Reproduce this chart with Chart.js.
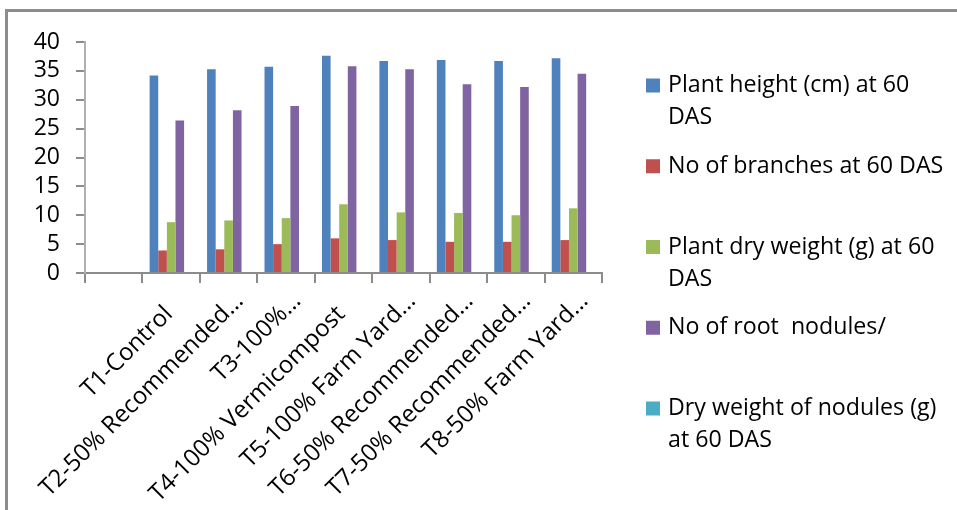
<!DOCTYPE html>
<html>
<head>
<meta charset="utf-8">
<title>Growth parameters at 60 DAS</title>
<script src="https://cdn.jsdelivr.net/npm/chart.js@4"></script>
<style>
  html, body { margin: 0; padding: 0; background: #fff; overflow: hidden; }
  .frame {
    position: absolute; left: 5px; top: 9px;
    width: 1100px; height: 700px;
    border: 3px solid #8c8c8c;
  }
  #myChart { position: absolute; left: 0; top: 0; }
</style>
</head>
<body>
<div class="frame"></div>
<canvas id="myChart" width="957" height="510"></canvas>
<script>
"use strict";

/* Behandlingar (första kategorin är tom) */
const categories = [
  "",
  "T1-Control",
  "T2-50% Recommended…",
  "T3-100%…",
  "T4-100% Vermicompost",
  "T5-100% Farm Yard…",
  "T6-50% Recommended…",
  "T7-50% Recommended…",
  "T8-50% Farm Yard…"
];

const seriesNames = [
  "Plant height (cm) at 60 DAS",
  "No of branches at 60 DAS",
  "Plant dry weight (g) at 60 DAS",
  "No of root  nodules/",
  "Dry weight of nodules (g) at 60 DAS"
];

const plantHeight  = [null, 34.2, 35.3, 35.7, 37.6, 36.7, 36.9, 36.7, 37.2];
const branches     = [null, 3.9, 4.1, 5.0, 6.0, 5.7, 5.4, 5.4, 5.7];
const dryWeight    = [null, 8.8, 9.1, 9.5, 11.9, 10.5, 10.4, 10.0, 11.2];
const rootNodules  = [null, 26.4, 28.2, 28.9, 35.8, 35.3, 32.7, 32.2, 34.5];
const noduleWeight = [null, 0, 0, 0, 0, 0, 0, 0, 0];

const yTicks = [0, 5, 10, 15, 20, 25, 30, 35, 40];

const colors = ["#4F81BD", "#C0504D", "#9BBB59", "#8064A2", "#4BACC6"];
const FONT = "'Open Sans', 'DejaVu Sans', sans-serif";

/* Egen legend till höger, med radbrytning som i Excel */
const sideLegend = {
  id: "sideLegend",
  afterDraw(chart) {
    const ctx = chart.ctx;
    const boxX = 646, textX = 668, firstY = 85.5, step = 80.75, lineH = 32, maxW = 282;
    ctx.save();
    ctx.font = "23.2px " + FONT;
    ctx.textBaseline = "middle";
    ctx.textAlign = "left";
    chart.data.datasets.forEach((ds, i) => {
      const y = firstY + i * step;
      ctx.fillStyle = ds.backgroundColor;
      ctx.fillRect(boxX, y - 7, 14, 14);

      // radbrytning på ord
      const words = ds.label.split(" ");
      const lines = [];
      let line = "";
      words.forEach((w, k) => {
        const test = k === 0 ? w : line + " " + w;
        if (k > 0 && ctx.measureText(test).width > maxW) {
          lines.push(line);
          line = w;
        } else {
          line = test;
        }
      });
      lines.push(line);

      ctx.fillStyle = "#000";
      lines.forEach((l, n) => ctx.fillText(l, textX, y + n * lineH));
    });
    ctx.restore();
  }
};

const seriesData = [plantHeight, branches, dryWeight, rootNodules, noduleWeight];

new Chart(document.getElementById("myChart"), {
  type: "bar",
  data: {
    labels: categories,
    datasets: seriesData.map((d, i) => ({
      label: seriesNames[i],
      data: d,
      backgroundColor: colors[i],
      borderWidth: 0,
      categoryPercentage: 0.75,
      barPercentage: 1.0
    }))
  },
  options: {
    responsive: false,
    animation: false,
    devicePixelRatio: 1,
    layout: {
      padding: { left: 0, top: 42, right: 355, bottom: 0 }
    },
    plugins: {
      legend: { display: false },
      tooltip: { enabled: false }
    },
    scales: {
      x: {
        grid: {
          offset: true,
          drawOnChartArea: false,
          tickLength: 10,
          color: "#8c8c8c",
          lineWidth: 2
        },
        border: { color: "#8c8c8c", width: 2 },
        ticks: {
          autoSkip: false,
          minRotation: 45,
          maxRotation: 45,
          padding: 4,
          labelOffset: 11,
          color: "#000",
          font: { family: FONT, size: 24 },
          // avkortade etiketter sticker ut lite längre än hela
          callback: (value, index) => {
            const label = categories[index];
            return label.endsWith("…") ? label : label + "   ";
          }
        },
        afterFit: axis => { axis.height = 237; }
      },
      y: {
        min: 0,
        max: 40,
        afterBuildTicks: axis => { axis.ticks = yTicks.map(v => ({ value: v })); },
        grid: {
          drawOnChartArea: false,
          tickLength: 9,
          color: "#8c8c8c",
          lineWidth: 2
        },
        border: { color: "#b0b0b0", width: 2 },
        ticks: {
          autoSkip: false,
          padding: 16,
          color: "#000",
          font: { family: FONT, size: 23 }
        },
        afterFit: axis => { axis.width = 85; }
      }
    }
  },
  plugins: [sideLegend]
});
</script>
</body>
</html>
